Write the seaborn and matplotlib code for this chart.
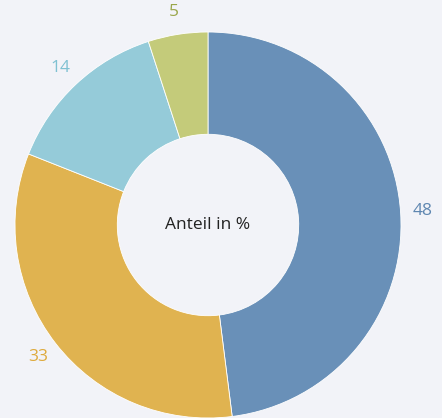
import matplotlib
matplotlib.use("Agg")
import matplotlib.pyplot as plt
import seaborn as sns

categories = ["A", "B", "C", "D"]
values = [48, 33, 14, 5]
labels = ["48", "33", "14", "5"]
colors = ["#6990b8", "#e0b350", "#95cbd9", "#c4cb7a"]
label_colors = ["#5f87b1", "#deaa3c", "#7fc1d2", "#9aa64a"]
center_text = "Anteil in %"

sns.set_theme(style="white")
plt.rcParams["font.family"] = ["Open Sans", "DejaVu Sans"]

bg = "#f2f3f8"
fig = plt.figure(figsize=(4.42, 4.18), dpi=100, facecolor=bg)
ax = fig.add_axes([0, 0, 1, 1])
ax.set_facecolor(bg)

cx, cy, R = 208, 418 - 225, 193
wedges, texts = ax.pie(values, labels=labels, colors=colors, startangle=90,
                       counterclock=False, center=(cx, cy), radius=R,
                       labeldistance=1.115, frame=True,
                       wedgeprops=dict(width=R * 0.53, edgecolor="white", linewidth=0.6),
                       textprops=dict(fontsize=12.5, fontweight="medium"))
for t, c in zip(texts, label_colors):
    t.set_color(c)
    t.set_ha("center")
    t.set_va("center")
ax.set_xlim(0, 442)
ax.set_ylim(0, 418)
ax.set_aspect("equal")
ax.axis("off")
ax.text(cx, cy, center_text, ha="center", va="center", fontsize=12.5, color="#222222")

fig.savefig("out.png", dpi=100, facecolor=bg)
